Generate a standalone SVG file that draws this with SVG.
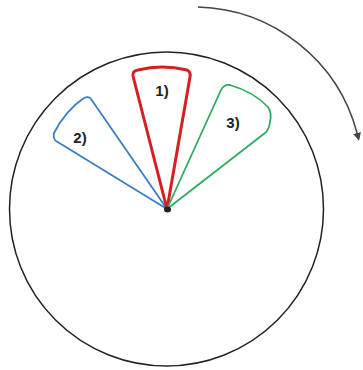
<svg xmlns="http://www.w3.org/2000/svg" width="363" height="370" viewBox="0 0 363 370">
<style>
.lbl{font-family:"Liberation Sans",Arial,sans-serif;font-weight:bold;font-size:15px;fill:#222;text-anchor:middle}
.sec{fill:none;stroke-linejoin:round}
</style>
<defs>
<marker id="ah" markerWidth="10" markerHeight="10" refX="1" refY="4" orient="auto" markerUnits="userSpaceOnUse">
<path d="M0,0 L8,4 L0,8 Z" fill="#444"/>
</marker>
</defs>
<rect width="363" height="370" fill="#fff"/>
<g id="wheel">
<circle cx="166.5" cy="209" r="157" fill="none" stroke="#222" stroke-width="1.5"/>
</g>
<g id="connectors">
<path d="M198,7 A169.5,169.5 0 0 1 357.3,134" fill="none" stroke="#444" stroke-width="1.5" marker-end="url(#ah)"/>
</g>
<g id="sector2">
<path class="sec" d="M167,209 L56,141 Q53,139 54,133 Q66,110 84,98 Q89,96 91,99 Z" stroke="#3a7fc0" stroke-width="1.8"/>
<text class="lbl" x="80" y="143">2)</text>
</g>
<g id="sector1">
<path class="sec" d="M167,209 L133,76 Q132,71 138,70 Q162,64 187,70 Q191,72 190,77 Z" stroke="#d42020" stroke-width="3"/>
<text class="lbl" x="162" y="96">1)</text>
</g>
<g id="sector3">
<path class="sec" d="M167,209 L221,90 Q224,84 230,85 Q254,92 268,107 Q272,113 270,122 Q269,130 265,133 Z" stroke="#2faa60" stroke-width="1.8"/>
<text class="lbl" x="233" y="128">3)</text>
</g>
<g id="hub">
<ellipse cx="167.5" cy="209.5" rx="3.5" ry="3" fill="#222"/>
</g>
</svg>
